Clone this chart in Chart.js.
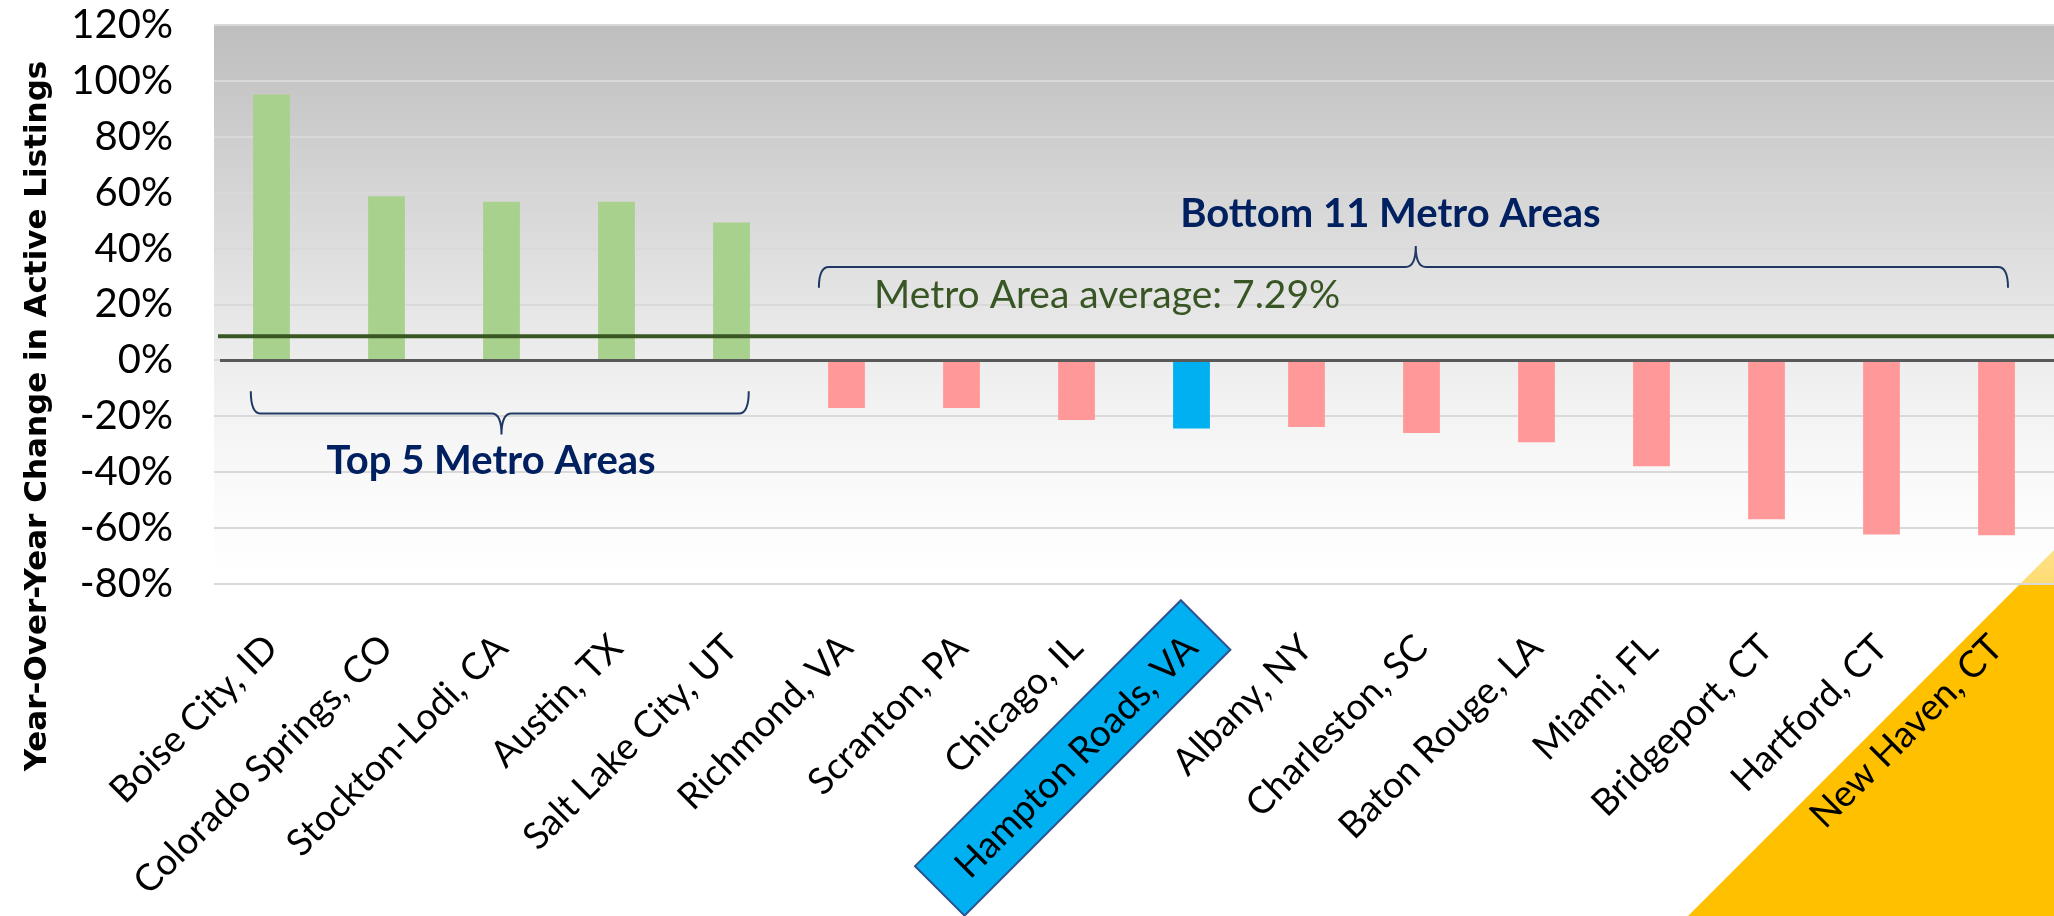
<!DOCTYPE html>
<html>
<head>
<meta charset="utf-8">
<script src="https://cdn.jsdelivr.net/npm/chart.js@4.4.1/dist/chart.umd.min.js"></script>
<style>
  html, body { margin: 0; padding: 0; background: #fff; }
  #wrap { width: 2054px; height: 916px; }
</style>
</head>
<body>
<div id="wrap"><canvas id="chart1" width="2054" height="916"></canvas></div>
<script>
// values
const metros = ['Boise City, ID', 'Colorado Springs, CO', 'Stockton-Lodi, CA', 'Austin, TX', 'Salt Lake City, UT',
  'Richmond, VA', 'Scranton, PA', 'Chicago, IL', 'Hampton Roads, VA', 'Albany, NY', 'Charleston, SC',
  'Baton Rouge, LA', 'Miami, FL', 'Bridgeport, CT', 'Hartford, CT', 'New Haven, CT'];
const yoyChange = [95.1, 58.7, 56.8, 56.8, 49.3, -17.0, -17.0, -21.3, -24.4, -23.8, -26.0, -29.3, -37.9, -56.8, -62.3, -62.6];
const avgValue = 8.6; // where the line sits in the picture
const avgLabel = 'Metro Area average: 7.29%';
const highlight = 'Hampton Roads, VA';
const topGroupLabel = 'Top 5 Metro Areas';
const bottomGroupLabel = 'Bottom 11 Metro Areas';
const yTitle = 'Year-Over-Year Change in Active Listings';
const yMin = -80, yMax = 120, yStep = 20;

const barColors = metros.map((m, i) =>
  m === highlight ? '#00b0f0' : (yoyChange[i] >= 0 ? '#a9d18e' : '#ff9999'));

const RAD = Math.PI / 4;

// curly brace, ends at yTip, bar at yLine, point at yPoint (all pixels)
function brace(ctx, x1, x2, xm, yTip, yLine, yPoint) {
  const r = 10;
  ctx.beginPath();
  ctx.moveTo(x1, yTip);
  ctx.quadraticCurveTo(x1, yLine, x1 + r, yLine);
  ctx.lineTo(xm - r, yLine);
  ctx.quadraticCurveTo(xm, yLine, xm, yPoint);
  ctx.quadraticCurveTo(xm, yLine, xm + r, yLine);
  ctx.lineTo(x2 - r, yLine);
  ctx.quadraticCurveTo(x2, yLine, x2, yTip);
  ctx.stroke();
}

const decor = {
  id: 'decor',
  beforeDraw(chart) {
    const { ctx, chartArea: a, width, height } = chart;
    const xs = chart.scales.x;
    ctx.save();
    ctx.fillStyle = '#fff';
    ctx.fillRect(0, 0, width, height);

    // gold corner
    ctx.fillStyle = '#ffc000';
    ctx.beginPath();
    ctx.moveTo(width - 366, height);
    ctx.lineTo(width, height - 366);
    ctx.lineTo(width, height);
    ctx.closePath();
    ctx.fill();

    // plot area gradient
    const g = ctx.createLinearGradient(0, a.top, 0, a.bottom);
    g.addColorStop(0, 'rgb(190,190,190)');
    g.addColorStop(0.6, 'rgb(237,237,237)');
    g.addColorStop(1, 'rgba(255,255,255,0.45)');
    ctx.fillStyle = g;
    ctx.fillRect(a.left, a.top, a.right - a.left, a.bottom - a.top);

    // highlight box behind the Hampton Roads label
    const hx = xs.getPixelForValue(metros.indexOf(highlight));
    const u = [-Math.cos(RAD), Math.sin(RAD)];
    const n = [Math.cos(RAD), Math.sin(RAD)];
    const cx = hx + 207 * u[0] + 39 * n[0];
    const cy = a.bottom + 207 * u[1] + 39 * n[1];
    const hl = 188, hw = 35;
    ctx.beginPath();
    ctx.moveTo(cx - hl * u[0] - hw * n[0], cy - hl * u[1] - hw * n[1]);
    ctx.lineTo(cx - hl * u[0] + hw * n[0], cy - hl * u[1] + hw * n[1]);
    ctx.lineTo(cx + hl * u[0] + hw * n[0], cy + hl * u[1] + hw * n[1]);
    ctx.lineTo(cx + hl * u[0] - hw * n[0], cy + hl * u[1] - hw * n[1]);
    ctx.closePath();
    ctx.fillStyle = '#00b0f0';
    ctx.fill();
    ctx.strokeStyle = '#2f528f';
    ctx.lineWidth = 2;
    ctx.stroke();
    ctx.restore();
  },
  afterDatasetsDraw(chart) {
    const { ctx, chartArea: a } = chart;
    const ys = chart.scales.y;
    ctx.save();
    let y0 = ys.getPixelForValue(0);
    ctx.strokeStyle = '#595959';
    ctx.lineWidth = 3;
    ctx.beginPath(); ctx.moveTo(a.left + 6, y0); ctx.lineTo(a.right, y0); ctx.stroke();
    let ya = ys.getPixelForValue(avgValue);
    ctx.strokeStyle = '#385723';
    ctx.lineWidth = 4;
    ctx.beginPath(); ctx.moveTo(a.left + 4, ya); ctx.lineTo(a.right, ya); ctx.stroke();
    ctx.restore();
  },
  afterDraw(chart) {
    const { ctx } = chart;
    const xs = chart.scales.x, ys = chart.scales.y;
    const px = v => xs.getPixelForValue(v);
    const py = v => ys.getPixelForValue(v);
    ctx.save();
    ctx.strokeStyle = '#1f3864';
    ctx.lineWidth = 2;
    brace(ctx, px(-0.18), px(4.15), px(2), py(-11), py(-19), py(-26.5));
    brace(ctx, px(4.76), px(15.1), px(9.95), py(26), py(33.4), py(40.9));

    ctx.fillStyle = '#002060';
    ctx.textAlign = 'center';
    ctx.textBaseline = 'alphabetic';
    ctx.font = 'bold 40px Lato';
    ctx.fillText(topGroupLabel, px(1.91), py(-40.8));
    ctx.font = 'bold 40px Lato';
    ctx.fillText(bottomGroupLabel, px(9.73), py(47.9));

    ctx.fillStyle = '#375623';
    ctx.textAlign = 'left';
    ctx.font = '39px Lato';
    ctx.fillText(avgLabel, px(5.24), py(18.6));

    // axis title
    ctx.translate(38, 416);
    ctx.rotate(-Math.PI / 2);
    ctx.fillStyle = '#000';
    ctx.textAlign = 'center';
    ctx.textBaseline = 'middle';
    ctx.font = 'bold 31px "DejaVu Sans"';
    ctx.fillText(yTitle, 0, 0);
    ctx.restore();
  }
};

const ctx = document.getElementById('chart1');
new Chart(ctx, {
  type: 'bar',
  data: {
    labels: metros,
    datasets: [{
      data: yoyChange,
      backgroundColor: barColors,
      borderWidth: 0,
      barPercentage: 0.32,
      categoryPercentage: 1
    }]
  },
  options: {
    responsive: false,
    animation: false,
    layout: { padding: { top: 25, left: 0, right: 0, bottom: 0 } },
    plugins: {
      legend: { display: false },
      tooltip: { enabled: false }
    },
    scales: {
      x: {
        grid: { display: false, drawTicks: false },
        border: { display: false },
        ticks: {
          autoSkip: false,
          maxRotation: 45,
          minRotation: 45,
          padding: 42,
          color: '#000',
          font: { family: 'Lato', size: 37 }
        },
        afterFit(s) { s.height = 332; s.paddingLeft = 0; s.paddingRight = 0; }
      },
      y: {
        min: yMin,
        max: yMax,
        grid: { color: '#d9d9d9', lineWidth: 2, drawTicks: false },
        border: { display: false },
        ticks: {
          stepSize: yStep,
          padding: 41,
          color: '#000',
          font: { family: 'Lato', size: 40 },
          callback: v => v + '%'
        },
        afterFit(s) { s.width = 214; s.paddingTop = 0; s.paddingBottom = 0; }
      }
    }
  },
  plugins: [decor]
});
</script>
</body>
</html>
